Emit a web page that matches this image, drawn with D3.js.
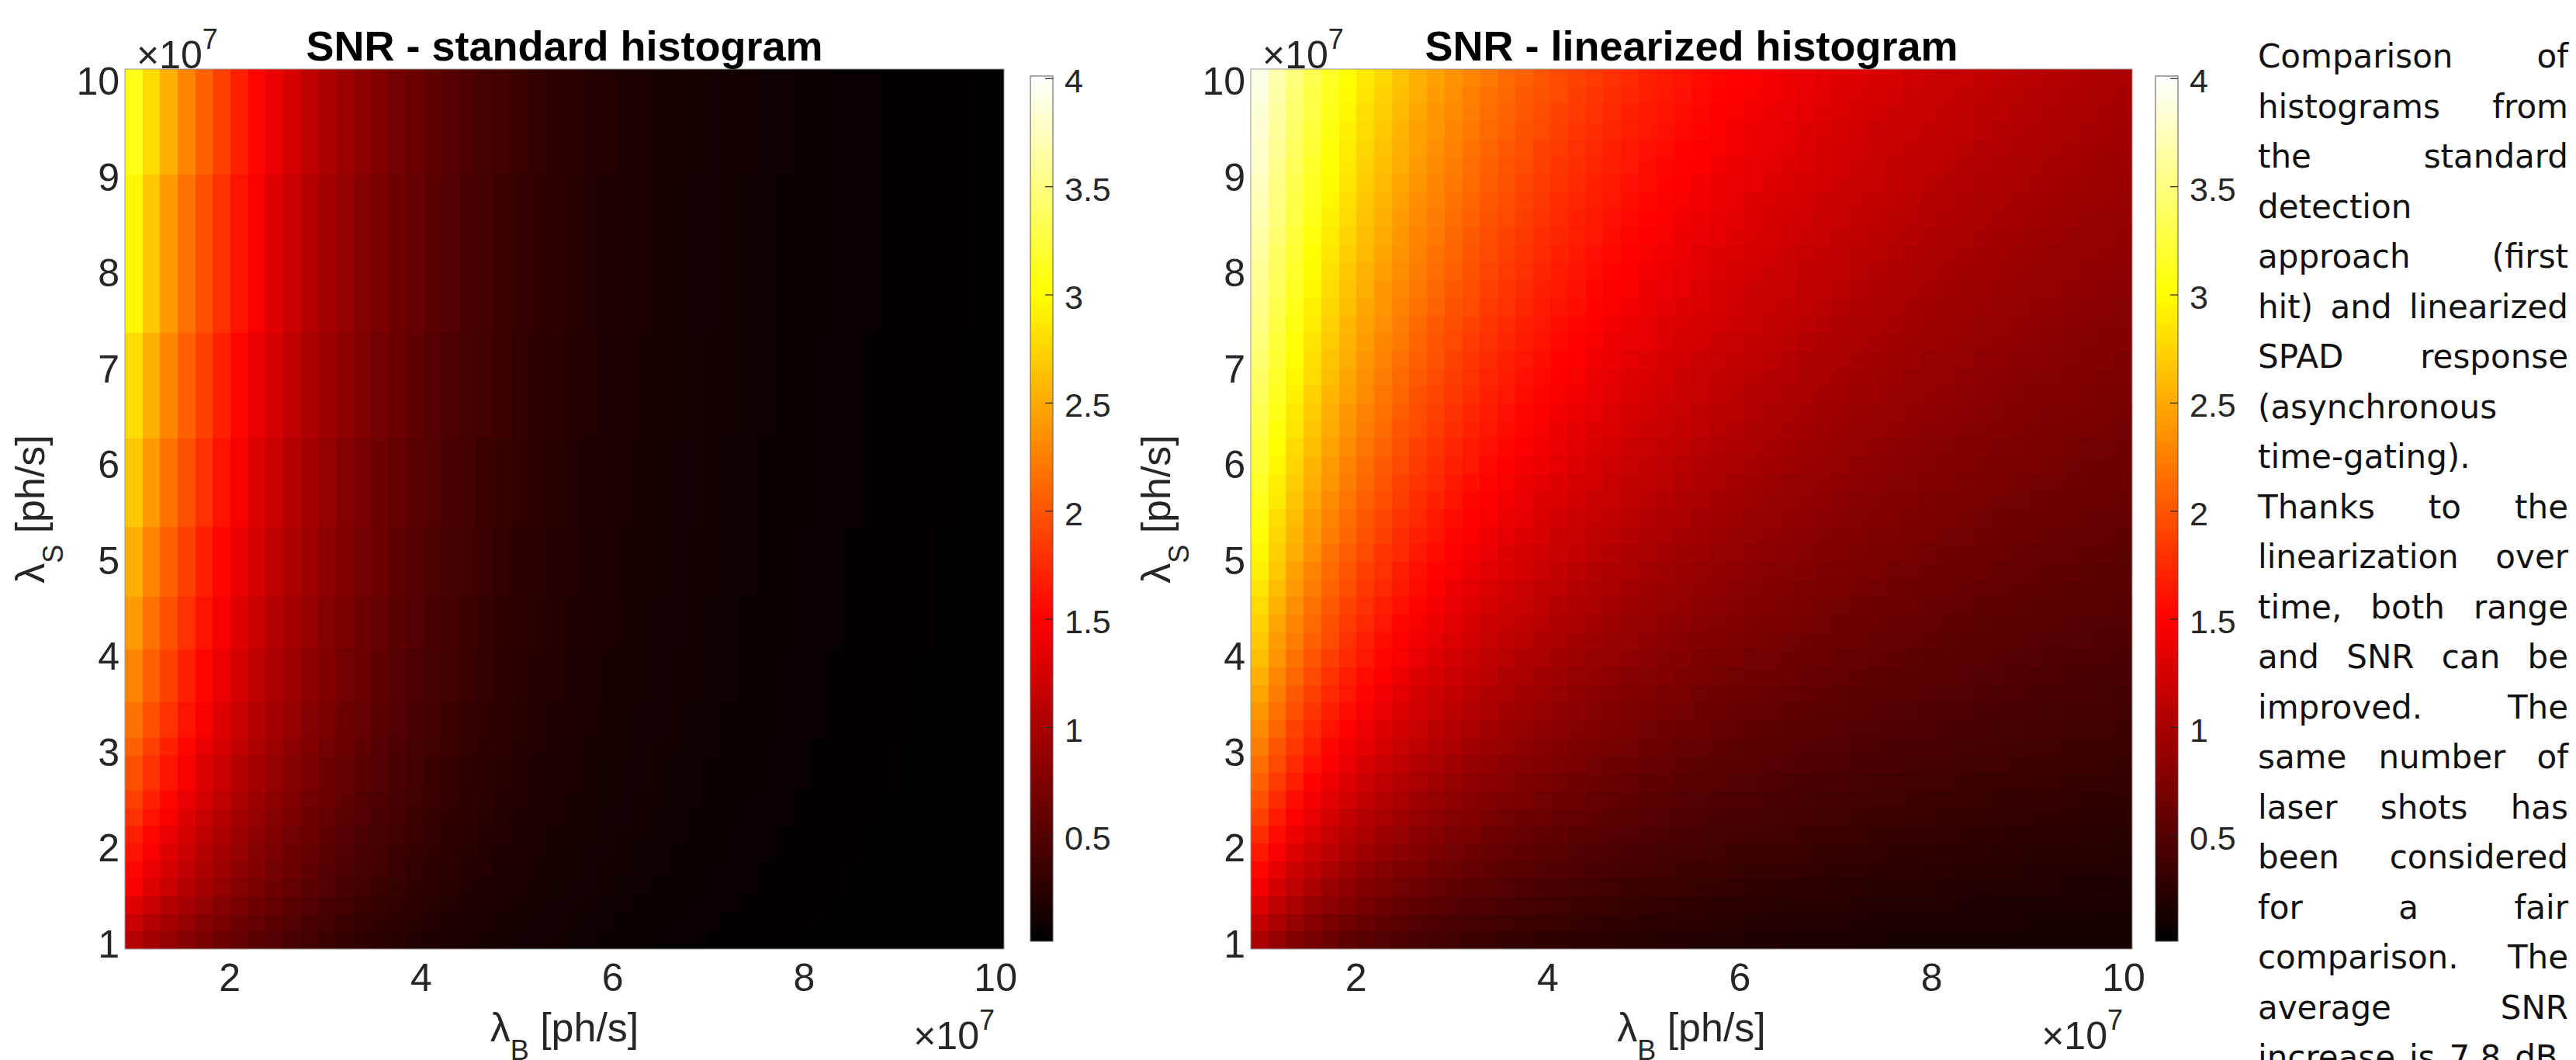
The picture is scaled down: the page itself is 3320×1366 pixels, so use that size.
<!DOCTYPE html>
<html><head><meta charset="utf-8">
<script src="https://cdn.jsdelivr.net/npm/d3@7"></script>
<style>html,body{margin:0;padding:0;background:#fff;}svg{display:block;}
.desc{font-family:"DejaVu Sans";font-size:42px;fill:#111;}
</style>
</head><body>
<svg id="chart" width="3320" height="1366"></svg>
<script>
// ---------------- DATA ----------------
// background / signal photon rates, in units of 1e7 ph/s
const lambdaB = [1.000,1.184,1.367,1.551,1.735,1.918,2.102,2.286,2.469,2.653,2.837,3.020,3.204,3.388,3.571,3.755,3.939,4.122,4.306,4.490,4.673,4.857,5.041,5.224,5.408,5.592,5.776,5.959,6.143,6.327,6.510,6.694,6.878,7.061,7.245,7.429,7.612,7.796,7.980,8.163,8.347,8.531,8.714,8.898,9.082,9.265,9.449,9.633,9.816,10.000];
const lambdaS = [1.000,1.184,1.367,1.551,1.735,1.918,2.102,2.286,2.469,2.653,2.837,3.020,3.204,3.388,3.571,3.755,3.939,4.122,4.306,4.490,4.673,4.857,5.041,5.224,5.408,5.592,5.776,5.959,6.143,6.327,6.510,6.694,6.878,7.061,7.245,7.429,7.612,7.796,7.980,8.163,8.347,8.531,8.714,8.898,9.082,9.265,9.449,9.633,9.816,10.000];
const axisExponent = 7;
const xTickValues = [2,4,6,8,10];
const yTickValues = [1,2,3,4,5,6,7,8,9,10];
const cbTickValues = [0.5,1,1.5,2,2.5,3,3.5,4];
const colorLimits = [0.01, 4.01];
const titles = ["SNR - standard histogram", "SNR - linearized histogram"];
const xLabelMain = "\u03BB", xLabelSub = "B", yLabelSub = "S", labelUnit = " [ph/s]";

// standard histogram SNR: row profiles along lambdaB (rows read bottom -> top)
const stdRowA = [1.07,.97,.88,.79,.72,.65,.59,.53,.48,.43,.39,.35,.32,.29,.26,.24,.21,.19,.17,.16,.14,.129,.117,.106,.095,.086,.078,.071,.064,.058,.052,.047,.043,.039,.035,.032,.029,.026,.024,.021,.019,.017,.016,.014,.013,.011,.010,.009,.008,.008];
const stdRowB = [1.19,1.07,.97,.88,.79,.72,.65,.59,.53,.48,.43,.39,.35,.32,.29,.26,.24,.21,.19,.17,.16,.14,.129,.117,.106,.095,.086,.078,.071,.064,.058,.052,.047,.043,.039,.035,.032,.029,.026,.024,.021,.019,.017,.016,.014,.013,.011,.010,.009,.008];
const stdRowC = [1.31,1.19,1.07,.97,.88,.79,.72,.65,.59,.53,.48,.43,.39,.35,.32,.29,.26,.24,.21,.19,.17,.16,.14,.129,.117,.106,.095,.086,.078,.071,.064,.058,.052,.047,.043,.039,.035,.032,.029,.026,.024,.021,.019,.017,.016,.014,.013,.011,.010,.009];
const stdRowD = [1.45,1.31,1.19,1.07,.97,.88,.79,.72,.65,.59,.53,.48,.43,.39,.35,.32,.29,.26,.24,.21,.19,.17,.16,.14,.129,.117,.106,.095,.086,.078,.071,.064,.058,.052,.047,.043,.039,.035,.032,.029,.026,.024,.021,.019,.017,.016,.014,.013,.011,.010];
const stdRowE = [1.53,1.38,1.25,1.13,1.02,.92,.83,.75,.68,.62,.56,.50,.46,.41,.37,.34,.30,.27,.25,.22,.20,.18,.17,.15,.136,.123,.111,.100,.091,.082,.074,.067,.061,.055,.050,.045,.041,.037,.033,.030,.027,.025,.022,.020,.018,.016,.015,.013,.012,.011];
const stdRowF = [1.61,1.45,1.31,1.19,1.07,.97,.88,.79,.72,.65,.59,.53,.48,.43,.39,.35,.32,.29,.26,.24,.21,.19,.17,.16,.14,.129,.117,.106,.095,.086,.078,.071,.064,.058,.052,.047,.043,.039,.035,.032,.029,.026,.024,.021,.019,.017,.016,.014,.013,.011];
const stdRowG = [1.69,1.53,1.38,1.25,1.13,1.02,.92,.83,.75,.68,.62,.56,.50,.46,.41,.37,.34,.30,.27,.25,.22,.20,.18,.17,.15,.136,.123,.111,.100,.091,.082,.074,.067,.061,.055,.050,.045,.041,.037,.033,.030,.027,.025,.022,.020,.018,.016,.015,.013,.012];
const stdRowH = [1.78,1.61,1.45,1.31,1.19,1.07,.97,.88,.79,.72,.65,.59,.53,.48,.43,.39,.35,.32,.29,.26,.24,.21,.19,.17,.16,.14,.129,.117,.106,.095,.086,.078,.071,.064,.058,.052,.047,.043,.039,.035,.032,.029,.026,.024,.021,.019,.017,.016,.014,.013];
const stdRowI = [1.87,1.69,1.53,1.38,1.25,1.13,1.02,.92,.83,.75,.68,.62,.56,.50,.46,.41,.37,.34,.30,.27,.25,.22,.20,.18,.17,.15,.136,.123,.111,.100,.091,.082,.074,.067,.061,.055,.050,.045,.041,.037,.033,.030,.027,.025,.022,.020,.018,.016,.015,.013];
const stdRowJ = [1.97,1.78,1.61,1.45,1.31,1.19,1.07,.97,.88,.79,.72,.65,.59,.53,.48,.43,.39,.35,.32,.29,.26,.24,.21,.19,.17,.16,.14,.129,.117,.106,.095,.086,.078,.071,.064,.058,.052,.047,.043,.039,.035,.032,.029,.026,.024,.021,.019,.017,.016,.014];
const stdRowK = [2.07,1.87,1.69,1.53,1.38,1.25,1.13,1.02,.92,.83,.75,.68,.62,.56,.50,.46,.41,.37,.34,.30,.27,.25,.22,.20,.18,.17,.15,.136,.123,.111,.100,.091,.082,.074,.067,.061,.055,.050,.045,.041,.037,.033,.030,.027,.025,.022,.020,.018,.016,.015];
const stdRowL = [2.18,1.97,1.78,1.61,1.45,1.31,1.19,1.07,.97,.88,.79,.72,.65,.59,.53,.48,.43,.39,.35,.32,.29,.26,.24,.21,.19,.17,.16,.14,.129,.117,.106,.095,.086,.078,.071,.064,.058,.052,.047,.043,.039,.035,.032,.029,.026,.024,.021,.019,.017,.016];
const stdRowM = [2.29,2.07,1.87,1.69,1.53,1.38,1.25,1.13,1.02,.92,.83,.75,.68,.62,.56,.50,.46,.41,.37,.34,.30,.27,.25,.22,.20,.18,.17,.15,.136,.123,.111,.100,.091,.082,.074,.067,.061,.055,.050,.045,.041,.037,.033,.030,.027,.025,.022,.020,.018,.016];
const stdRowN = [2.41,2.18,1.97,1.78,1.61,1.45,1.31,1.19,1.07,.97,.88,.79,.72,.65,.59,.53,.48,.43,.39,.35,.32,.29,.26,.24,.21,.19,.17,.16,.14,.129,.117,.106,.095,.086,.078,.071,.064,.058,.052,.047,.043,.039,.035,.032,.029,.026,.024,.021,.019,.017];
const stdRowO = [2.53,2.29,2.07,1.87,1.69,1.53,1.38,1.25,1.13,1.02,.92,.83,.75,.68,.62,.56,.50,.46,.41,.37,.34,.30,.27,.25,.22,.20,.18,.17,.15,.136,.123,.111,.100,.091,.082,.074,.067,.061,.055,.050,.045,.041,.037,.033,.030,.027,.025,.022,.020,.018];
const stdRowP = [2.67,2.41,2.18,1.97,1.78,1.61,1.45,1.31,1.19,1.07,.97,.88,.79,.72,.65,.59,.53,.48,.43,.39,.35,.32,.29,.26,.24,.21,.19,.17,.16,.14,.129,.117,.106,.095,.086,.078,.071,.064,.058,.052,.047,.043,.039,.035,.032,.029,.026,.024,.021,.019];
const stdRowQ = [2.80,2.53,2.29,2.07,1.87,1.69,1.53,1.38,1.25,1.13,1.02,.92,.83,.75,.68,.62,.56,.50,.46,.41,.37,.34,.30,.27,.25,.22,.20,.18,.17,.15,.136,.123,.111,.100,.091,.082,.074,.067,.061,.055,.050,.045,.041,.037,.033,.030,.027,.025,.022,.020];
const stdRowR = [2.95,2.67,2.41,2.18,1.97,1.78,1.61,1.45,1.31,1.19,1.07,.97,.88,.79,.72,.65,.59,.53,.48,.43,.39,.35,.32,.29,.26,.24,.21,.19,.17,.16,.14,.129,.117,.106,.095,.086,.078,.071,.064,.058,.052,.047,.043,.039,.035,.032,.029,.026,.024,.021];
const stdRowS = [3.10,2.80,2.53,2.29,2.07,1.87,1.69,1.53,1.38,1.25,1.13,1.02,.92,.83,.75,.68,.62,.56,.50,.46,.41,.37,.34,.30,.27,.25,.22,.20,.18,.17,.15,.136,.123,.111,.100,.091,.082,.074,.067,.061,.055,.050,.045,.041,.037,.033,.030,.027,.025,.022];
const snrStandard = [stdRowA,stdRowB,stdRowC,stdRowD,stdRowE,stdRowF,stdRowG,stdRowH,stdRowI,stdRowJ,
  stdRowJ,stdRowK,stdRowL,stdRowL,stdRowM,stdRowM,stdRowM,stdRowN,stdRowN,stdRowN,
  stdRowO,stdRowO,stdRowO,stdRowO,stdRowP,stdRowP,stdRowP,stdRowP,stdRowP,stdRowQ,
  stdRowQ,stdRowQ,stdRowQ,stdRowQ,stdRowQ,stdRowR,stdRowR,stdRowR,stdRowR,stdRowR,
  stdRowR,stdRowR,stdRowR,stdRowR,stdRowS,stdRowS,stdRowS,stdRowS,stdRowS,stdRowS];

// linearized histogram SNR (rows read bottom -> top)
const snrLinearized = [
[1.00,.87,.77,.69,.62,.57,.52,.49,.45,.42,.40,.38,.35,.34,.32,.31,.29,.28,.27,.26,.25,.24,.23,.22,.22,.21,.20,.20,.19,.19,.18,.18,.17,.17,.16,.16,.15,.15,.15,.14,.14,.14,.14,.13,.13,.13,.13,.12,.12,.12],
[1.15,1.00,.89,.80,.72,.66,.61,.57,.53,.49,.46,.44,.41,.39,.38,.36,.34,.33,.31,.30,.29,.28,.27,.26,.25,.25,.24,.23,.22,.22,.21,.21,.20,.20,.19,.19,.18,.18,.17,.17,.17,.16,.16,.16,.15,.15,.15,.15,.14,.14],
[1.29,1.13,1.00,.90,.82,.75,.69,.64,.60,.56,.53,.50,.47,.45,.43,.41,.39,.38,.36,.35,.33,.32,.31,.30,.29,.28,.27,.26,.26,.25,.24,.24,.23,.23,.22,.21,.21,.20,.20,.20,.19,.19,.18,.18,.18,.17,.17,.17,.16,.16],
[1.42,1.24,1.11,1.00,.91,.84,.77,.72,.67,.63,.59,.56,.53,.51,.48,.46,.44,.42,.41,.39,.38,.36,.35,.34,.33,.32,.31,.30,.29,.28,.27,.27,.26,.25,.25,.24,.24,.23,.23,.22,.22,.21,.21,.20,.20,.20,.19,.19,.19,.18],
[1.54,1.36,1.21,1.10,1.00,.92,.85,.79,.74,.70,.66,.62,.59,.56,.53,.51,.49,.47,.45,.43,.42,.40,.39,.38,.36,.35,.34,.33,.32,.31,.31,.30,.29,.28,.28,.27,.26,.26,.25,.25,.24,.24,.23,.23,.22,.22,.21,.21,.21,.20],
[1.65,1.46,1.31,1.19,1.09,1.00,.93,.86,.81,.76,.72,.68,.64,.61,.58,.56,.53,.51,.49,.47,.46,.44,.43,.41,.40,.39,.38,.36,.35,.35,.34,.33,.32,.31,.30,.30,.29,.28,.28,.27,.27,.26,.25,.25,.24,.24,.24,.23,.23,.22],
[1.76,1.56,1.41,1.28,1.17,1.08,1.00,.93,.87,.82,.78,.73,.70,.66,.63,.61,.58,.56,.54,.52,.50,.48,.46,.45,.43,.42,.41,.40,.39,.38,.37,.36,.35,.34,.33,.32,.32,.31,.30,.30,.29,.28,.28,.27,.27,.26,.26,.25,.25,.24],
[1.87,1.66,1.50,1.36,1.25,1.15,1.07,1.00,.94,.88,.83,.79,.75,.72,.68,.65,.63,.60,.58,.56,.54,.52,.50,.48,.47,.46,.44,.43,.42,.41,.40,.39,.38,.37,.36,.35,.34,.33,.33,.32,.31,.31,.30,.30,.29,.28,.28,.27,.27,.26],
[1.97,1.75,1.58,1.44,1.33,1.23,1.14,1.07,1.00,.94,.89,.84,.80,.76,.73,.70,.67,.64,.62,.60,.58,.56,.54,.52,.50,.49,.47,.46,.45,.44,.43,.41,.40,.39,.38,.38,.37,.36,.35,.34,.34,.33,.32,.32,.31,.31,.30,.29,.29,.28],
[2.06,1.84,1.67,1.52,1.40,1.30,1.21,1.13,1.06,1.00,.95,.90,.85,.81,.78,.74,.71,.69,.66,.64,.61,.59,.57,.56,.54,.52,.51,.49,.48,.47,.45,.44,.43,.42,.41,.40,.39,.38,.38,.37,.36,.35,.35,.34,.33,.33,.32,.32,.31,.30],
[2.15,1.93,1.75,1.60,1.47,1.37,1.27,1.19,1.12,1.06,1.00,.95,.90,.86,.82,.79,.76,.73,.70,.68,.65,.63,.61,.59,.57,.55,.54,.52,.51,.50,.48,.47,.46,.45,.44,.43,.42,.41,.40,.39,.38,.38,.37,.36,.35,.35,.34,.34,.33,.32],
[2.24,2.01,1.83,1.67,1.54,1.43,1.34,1.25,1.18,1.11,1.05,1.00,.95,.91,.87,.83,.80,.77,.74,.71,.69,.67,.64,.62,.60,.59,.57,.55,.54,.53,.51,.50,.49,.48,.46,.45,.44,.43,.42,.42,.41,.40,.39,.38,.38,.37,.36,.36,.35,.34],
[2.32,2.09,1.90,1.74,1.61,1.50,1.40,1.31,1.23,1.17,1.10,1.05,1.00,.95,.91,.88,.84,.81,.78,.75,.73,.70,.68,.66,.64,.62,.60,.58,.57,.55,.54,.53,.51,.50,.49,.48,.47,.46,.45,.44,.43,.42,.41,.41,.40,.39,.38,.38,.37,.36],
[2.39,2.16,1.97,1.81,1.68,1.56,1.46,1.37,1.29,1.22,1.16,1.10,1.05,1.00,.96,.92,.88,.85,.82,.79,.76,.74,.71,.69,.67,.65,.63,.61,.60,.58,.57,.55,.54,.53,.52,.50,.49,.48,.47,.46,.45,.44,.44,.43,.42,.41,.40,.40,.39,.38],
[2.47,2.23,2.04,1.88,1.74,1.62,1.51,1.42,1.34,1.27,1.20,1.15,1.09,1.04,1.00,.96,.92,.89,.85,.82,.80,.77,.75,.72,.70,.68,.66,.64,.63,.61,.60,.58,.57,.55,.54,.53,.52,.51,.50,.48,.48,.47,.46,.45,.44,.43,.42,.42,.41,.40],
[2.54,2.30,2.11,1.94,1.80,1.68,1.57,1.48,1.39,1.32,1.25,1.19,1.14,1.09,1.04,1.00,.96,.93,.89,.86,.83,.80,.78,.76,.73,.71,.69,.67,.66,.64,.62,.61,.59,.58,.57,.55,.54,.53,.52,.51,.50,.49,.48,.47,.46,.45,.44,.44,.43,.42],
[2.61,2.37,2.17,2.00,1.86,1.74,1.63,1.53,1.45,1.37,1.30,1.24,1.18,1.13,1.08,1.04,1.00,.96,.93,.90,.87,.84,.81,.79,.76,.74,.72,.70,.68,.67,.65,.63,.62,.60,.59,.58,.56,.55,.54,.53,.52,.51,.50,.49,.48,.47,.46,.46,.45,.44],
[2.67,2.43,2.23,2.06,1.92,1.79,1.68,1.58,1.50,1.42,1.35,1.28,1.23,1.17,1.12,1.08,1.04,1.00,.96,.93,.90,.87,.84,.82,.80,.77,.75,.73,.71,.69,.68,.66,.64,.63,.62,.60,.59,.58,.56,.55,.54,.53,.52,.51,.50,.49,.48,.48,.47,.46],
[2.73,2.49,2.29,2.12,1.97,1.85,1.73,1.63,1.54,1.46,1.39,1.33,1.27,1.21,1.16,1.12,1.08,1.04,1.00,.97,.93,.90,.88,.85,.83,.80,.78,.76,.74,.72,.70,.69,.67,.65,.64,.63,.61,.60,.59,.57,.56,.55,.54,.53,.52,.51,.50,.49,.49,.48],
[2.79,2.55,2.35,2.18,2.03,1.90,1.78,1.68,1.59,1.51,1.44,1.37,1.31,1.25,1.20,1.16,1.11,1.07,1.03,1.00,.97,.94,.91,.88,.86,.83,.81,.79,.77,.75,.73,.71,.69,.68,.66,.65,.64,.62,.61,.60,.58,.57,.56,.55,.54,.53,.52,.51,.51,.50],
[2.85,2.61,2.41,2.23,2.08,1.95,1.83,1.73,1.64,1.56,1.48,1.41,1.35,1.29,1.24,1.19,1.15,1.11,1.07,1.03,1.00,.97,.94,.91,.89,.86,.84,.81,.79,.77,.75,.74,.72,.70,.69,.67,.66,.64,.63,.62,.61,.59,.58,.57,.56,.55,.54,.53,.52,.52],
[2.91,2.67,2.46,2.28,2.13,2.00,1.88,1.78,1.68,1.60,1.52,1.45,1.39,1.33,1.28,1.23,1.19,1.14,1.10,1.07,1.03,1.00,.97,.94,.91,.89,.86,.84,.82,.80,.78,.76,.74,.73,.71,.70,.68,.67,.65,.64,.63,.62,.60,.59,.58,.57,.56,.55,.54,.53],
[2.96,2.72,2.51,2.34,2.18,2.05,1.93,1.82,1.73,1.64,1.57,1.50,1.43,1.37,1.32,1.27,1.22,1.18,1.14,1.10,1.06,1.03,1.00,.97,.94,.92,.89,.87,.85,.83,.81,.79,.77,.75,.73,.72,.70,.69,.67,.66,.65,.64,.62,.61,.60,.59,.58,.57,.56,.55],
[3.01,2.77,2.56,2.39,2.23,2.10,1.98,1.87,1.77,1.69,1.61,1.53,1.47,1.41,1.35,1.30,1.26,1.21,1.17,1.13,1.10,1.06,1.03,1.00,.97,.95,.92,.90,.87,.85,.83,.81,.79,.77,.76,.74,.73,.71,.70,.68,.67,.66,.64,.63,.62,.61,.60,.59,.58,.57],
[3.06,2.82,2.61,2.43,2.28,2.14,2.02,1.91,1.81,1.73,1.65,1.57,1.51,1.45,1.39,1.34,1.29,1.24,1.20,1.16,1.13,1.09,1.06,1.03,1.00,.97,.95,.92,.90,.88,.86,.84,.82,.80,.78,.76,.75,.73,.72,.70,.69,.68,.66,.65,.64,.63,.62,.61,.60,.59],
[3.11,2.87,2.66,2.48,2.32,2.19,2.06,1.95,1.86,1.77,1.69,1.61,1.54,1.48,1.43,1.37,1.32,1.28,1.23,1.19,1.16,1.12,1.09,1.06,1.03,1.00,.97,.95,.92,.90,.88,.86,.84,.82,.80,.79,.77,.75,.74,.72,.71,.70,.68,.67,.66,.65,.64,.63,.62,.61],
[3.16,2.91,2.71,2.53,2.37,2.23,2.11,2.00,1.90,1.81,1.73,1.65,1.58,1.52,1.46,1.41,1.36,1.31,1.27,1.23,1.19,1.15,1.12,1.09,1.06,1.03,1.00,.97,.95,.93,.90,.88,.86,.84,.83,.81,.79,.78,.76,.75,.73,.72,.70,.69,.68,.67,.66,.64,.63,.62],
[3.20,2.96,2.75,2.57,2.41,2.27,2.15,2.04,1.94,1.85,1.76,1.69,1.62,1.55,1.49,1.44,1.39,1.34,1.30,1.26,1.22,1.18,1.15,1.11,1.08,1.05,1.03,1.00,.98,.95,.93,.91,.89,.87,.85,.83,.81,.80,.78,.77,.75,.74,.72,.71,.70,.69,.67,.66,.65,.64],
[3.24,3.00,2.79,2.61,2.46,2.32,2.19,2.08,1.98,1.88,1.80,1.72,1.65,1.59,1.53,1.47,1.42,1.37,1.33,1.29,1.25,1.21,1.17,1.14,1.11,1.08,1.05,1.03,1.00,.98,.95,.93,.91,.89,.87,.85,.83,.82,.80,.79,.77,.76,.74,.73,.72,.70,.69,.68,.67,.66],
[3.28,3.04,2.84,2.66,2.50,2.36,2.23,2.12,2.01,1.92,1.84,1.76,1.69,1.62,1.56,1.51,1.45,1.40,1.36,1.32,1.28,1.24,1.20,1.17,1.14,1.11,1.08,1.05,1.02,1.00,.98,.95,.93,.91,.89,.87,.86,.84,.82,.81,.79,.78,.76,.75,.74,.72,.71,.70,.69,.68],
[3.32,3.09,2.88,2.70,2.54,2.40,2.27,2.16,2.05,1.96,1.87,1.79,1.72,1.66,1.59,1.54,1.48,1.43,1.39,1.34,1.30,1.27,1.23,1.19,1.16,1.13,1.10,1.08,1.05,1.02,1.00,.98,.96,.93,.91,.90,.88,.86,.84,.83,.81,.80,.78,.77,.75,.74,.73,.72,.70,.69],
[3.36,3.13,2.92,2.74,2.58,2.44,2.31,2.19,2.09,1.99,1.91,1.83,1.76,1.69,1.63,1.57,1.52,1.46,1.42,1.37,1.33,1.29,1.26,1.22,1.19,1.16,1.13,1.10,1.07,1.05,1.02,1.00,.98,.96,.94,.92,.90,.88,.86,.85,.83,.82,.80,.79,.77,.76,.75,.73,.72,.71],
[3.40,3.16,2.96,2.78,2.62,2.47,2.35,2.23,2.13,2.03,1.94,1.86,1.79,1.72,1.66,1.60,1.55,1.49,1.45,1.40,1.36,1.32,1.28,1.25,1.21,1.18,1.15,1.12,1.10,1.07,1.05,1.02,1.00,.98,.96,.94,.92,.90,.88,.87,.85,.83,.82,.80,.79,.78,.76,.75,.74,.73],
[3.44,3.20,3.00,2.81,2.65,2.51,2.38,2.27,2.16,2.06,1.98,1.90,1.82,1.75,1.69,1.63,1.58,1.52,1.48,1.43,1.39,1.35,1.31,1.27,1.24,1.21,1.18,1.15,1.12,1.09,1.07,1.04,1.02,1.00,.98,.96,.94,.92,.90,.89,.87,.85,.84,.82,.81,.80,.78,.77,.76,.74],
[3.47,3.24,3.03,2.85,2.69,2.55,2.42,2.30,2.20,2.10,2.01,1.93,1.85,1.79,1.72,1.66,1.61,1.55,1.50,1.46,1.41,1.37,1.34,1.30,1.26,1.23,1.20,1.17,1.14,1.12,1.09,1.07,1.04,1.02,1.00,.98,.96,.94,.92,.91,.89,.87,.86,.84,.83,.81,.80,.79,.77,.76],
[3.51,3.27,3.07,2.89,2.73,2.58,2.45,2.34,2.23,2.13,2.04,1.96,1.89,1.82,1.75,1.69,1.63,1.58,1.53,1.49,1.44,1.40,1.36,1.32,1.29,1.26,1.23,1.20,1.17,1.14,1.11,1.09,1.07,1.04,1.02,1.00,.98,.96,.94,.92,.91,.89,.87,.86,.84,.83,.82,.80,.79,.78],
[3.54,3.31,3.10,2.92,2.76,2.62,2.49,2.37,2.26,2.17,2.08,1.99,1.92,1.85,1.78,1.72,1.66,1.61,1.56,1.51,1.47,1.43,1.39,1.35,1.31,1.28,1.25,1.22,1.19,1.16,1.14,1.11,1.09,1.06,1.04,1.02,1.00,.98,.96,.94,.93,.91,.89,.88,.86,.85,.83,.82,.81,.79],
[3.57,3.34,3.14,2.96,2.80,2.65,2.52,2.40,2.30,2.20,2.11,2.02,1.95,1.88,1.81,1.75,1.69,1.64,1.59,1.54,1.49,1.45,1.41,1.37,1.34,1.30,1.27,1.24,1.21,1.18,1.16,1.13,1.11,1.08,1.06,1.04,1.02,1.00,.98,.96,.94,.93,.91,.90,.88,.87,.85,.84,.82,.81],
[3.60,3.37,3.17,2.99,2.83,2.68,2.55,2.44,2.33,2.23,2.14,2.06,1.98,1.91,1.84,1.78,1.72,1.66,1.61,1.57,1.52,1.48,1.44,1.40,1.36,1.33,1.30,1.26,1.23,1.21,1.18,1.15,1.13,1.11,1.08,1.06,1.04,1.02,1.00,.98,.96,.95,.93,.91,.90,.88,.87,.85,.84,.83],
[3.63,3.40,3.20,3.02,2.86,2.72,2.59,2.47,2.36,2.26,2.17,2.09,2.01,1.94,1.87,1.81,1.75,1.69,1.64,1.59,1.55,1.50,1.46,1.42,1.39,1.35,1.32,1.29,1.26,1.23,1.20,1.17,1.15,1.13,1.10,1.08,1.06,1.04,1.02,1.00,.98,.96,.95,.93,.91,.90,.88,.87,.86,.84],
[3.66,3.44,3.23,3.05,2.89,2.75,2.62,2.50,2.39,2.29,2.20,2.11,2.04,1.96,1.90,1.83,1.77,1.72,1.67,1.62,1.57,1.53,1.49,1.45,1.41,1.37,1.34,1.31,1.28,1.25,1.22,1.20,1.17,1.15,1.12,1.10,1.08,1.06,1.04,1.02,1.00,.98,.96,.95,.93,.92,.90,.89,.87,.86],
[3.69,3.47,3.26,3.09,2.92,2.78,2.65,2.53,2.42,2.32,2.23,2.14,2.07,1.99,1.92,1.86,1.80,1.74,1.69,1.64,1.60,1.55,1.51,1.47,1.43,1.40,1.36,1.33,1.30,1.27,1.24,1.22,1.19,1.17,1.14,1.12,1.10,1.08,1.06,1.04,1.02,1.00,.98,.97,.95,.93,.92,.90,.89,.88],
[3.72,3.50,3.29,3.12,2.96,2.81,2.68,2.56,2.45,2.35,2.26,2.17,2.09,2.02,1.95,1.89,1.83,1.77,1.72,1.67,1.62,1.58,1.53,1.49,1.46,1.42,1.39,1.35,1.32,1.29,1.26,1.24,1.21,1.19,1.16,1.14,1.12,1.10,1.07,1.06,1.04,1.02,1.00,.98,.97,.95,.93,.92,.91,.89],
[3.75,3.52,3.32,3.15,2.99,2.84,2.71,2.59,2.48,2.38,2.29,2.20,2.12,2.05,1.98,1.91,1.85,1.80,1.74,1.69,1.65,1.60,1.56,1.52,1.48,1.44,1.41,1.38,1.34,1.31,1.28,1.26,1.23,1.21,1.18,1.16,1.14,1.11,1.09,1.07,1.05,1.04,1.02,1.00,.98,.97,.95,.94,.92,.91],
[3.78,3.55,3.35,3.17,3.01,2.87,2.74,2.62,2.51,2.41,2.32,2.23,2.15,2.07,2.00,1.94,1.88,1.82,1.77,1.72,1.67,1.62,1.58,1.54,1.50,1.47,1.43,1.40,1.36,1.33,1.31,1.28,1.25,1.23,1.20,1.18,1.15,1.13,1.11,1.09,1.07,1.05,1.03,1.02,1.00,.98,.97,.95,.94,.92],
[3.80,3.58,3.38,3.20,3.04,2.90,2.77,2.65,2.54,2.44,2.34,2.26,2.18,2.10,2.03,1.97,1.90,1.85,1.79,1.74,1.69,1.65,1.60,1.56,1.52,1.49,1.45,1.42,1.39,1.36,1.33,1.30,1.27,1.24,1.22,1.20,1.17,1.15,1.13,1.11,1.09,1.07,1.05,1.03,1.02,1.00,.98,.97,.95,.94],
[3.83,3.61,3.41,3.23,3.07,2.93,2.80,2.68,2.57,2.46,2.37,2.28,2.20,2.13,2.06,1.99,1.93,1.87,1.82,1.77,1.72,1.67,1.63,1.59,1.55,1.51,1.47,1.44,1.41,1.38,1.35,1.32,1.29,1.26,1.24,1.21,1.19,1.17,1.15,1.13,1.11,1.09,1.07,1.05,1.03,1.02,1.00,.98,.97,.95],
[3.85,3.63,3.43,3.26,3.10,2.95,2.82,2.70,2.59,2.49,2.40,2.31,2.23,2.15,2.08,2.02,1.95,1.90,1.84,1.79,1.74,1.69,1.65,1.61,1.57,1.53,1.49,1.46,1.43,1.40,1.37,1.34,1.31,1.28,1.26,1.23,1.21,1.19,1.17,1.14,1.12,1.10,1.09,1.07,1.05,1.03,1.02,1.00,.98,.97],
[3.88,3.66,3.46,3.28,3.13,2.98,2.85,2.73,2.62,2.52,2.42,2.34,2.25,2.18,2.11,2.04,1.98,1.92,1.86,1.81,1.76,1.72,1.67,1.63,1.59,1.55,1.52,1.48,1.45,1.42,1.39,1.36,1.33,1.30,1.28,1.25,1.23,1.20,1.18,1.16,1.14,1.12,1.10,1.08,1.07,1.05,1.03,1.02,1.00,.98],
[3.90,3.68,3.49,3.31,3.15,3.01,2.88,2.76,2.65,2.54,2.45,2.36,2.28,2.20,2.13,2.07,2.00,1.94,1.89,1.84,1.79,1.74,1.69,1.65,1.61,1.57,1.54,1.50,1.47,1.44,1.41,1.38,1.35,1.32,1.30,1.27,1.25,1.22,1.20,1.18,1.16,1.14,1.12,1.10,1.08,1.07,1.05,1.03,1.02,1.00]
];

const descLines = ["Comparison of","histograms from","the standard","detection","approach (first","hit) and linearized","SPAD response","(asynchronous","time-gating).","Thanks to the","linearization over","time, both range","and SNR can be","improved. The","same number of","laser shots has","been considered","for a fair","comparison. The","average SNR","increase is 7.8 dB."];

// ---------------- LAYOUT ----------------
const W = 3320, H = 1366;
const plotTop = 89, plotBottom = 1223;
const cbTop = 98, cbBottom = 1213, cbW = 29;
const panels = [
  {title: titles[0], data: snrStandard, x0: 161, x1: 1294, cbX: 1328},
  {title: titles[1], data: snrLinearized, x0: 1612, x1: 2748, cbX: 2778}
];
const FONT = "'Liberation Sans', Arial, Helvetica, sans-serif";
const TXT = "#262626";

const svg = d3.select("#chart");
svg.append("rect").attr("width", W).attr("height", H).attr("fill", "#fff");

const cScale = d3.scaleLinear().domain(colorLimits).range([0, 1]).clamp(true);
function hot(v) {
  const m = 256, n1 = 96, n2 = 192;
  const t = cScale(v);
  const i = Math.min(m, Math.floor(t * m) + 1);
  const r = i <= n1 ? i / n1 : 1;
  const g = i <= n1 ? 0 : (i <= n2 ? (i - n1) / (n2 - n1) : 1);
  const b = i <= n2 ? 0 : (i - n2) / (m - n2);
  return d3.rgb(r * 255, g * 255, b * 255).formatHex();
}

function edges(arr) {
  const n = arr.length, e = [];
  e.push(arr[0] - (arr[1] - arr[0]) / 2);
  for (let k = 1; k < n; k++) e.push((arr[k - 1] + arr[k]) / 2);
  e.push(arr[n - 1] + (arr[n - 1] - arr[n - 2]) / 2);
  return e;
}
const xEdges = edges(lambdaB), yEdges = edges(lambdaS);

panels.forEach(p => {
  const g = svg.append("g");
  const x = d3.scaleLinear().domain([xEdges[0], xEdges[xEdges.length - 1]]).range([p.x0, p.x1]);
  const y = d3.scaleLinear().domain([yEdges[0], yEdges[yEdges.length - 1]]).range([plotBottom, plotTop]);

  const cells = [];
  p.data.forEach((row, i) => row.forEach((v, j) => cells.push({i, j, v})));
  g.append("g").selectAll("rect").data(cells).join("rect")
    .attr("x", d => Math.round(x(xEdges[d.j])))
    .attr("width", d => Math.round(x(xEdges[d.j + 1])) - Math.round(x(xEdges[d.j])))
    .attr("y", d => Math.round(y(yEdges[d.i + 1])))
    .attr("height", d => Math.round(y(yEdges[d.i])) - Math.round(y(yEdges[d.i + 1])))
    .attr("fill", d => hot(d.v))
    .attr("shape-rendering", "crispEdges");

  g.append("rect").attr("x", p.x0).attr("y", plotTop)
    .attr("width", p.x1 - p.x0).attr("height", plotBottom - plotTop)
    .attr("fill", "none").attr("stroke", "#9a9a9a").attr("stroke-width", 1);

  // axes
  const ya = g.append("g").attr("transform", `translate(${p.x0},0)`)
    .call(d3.axisLeft(y).tickValues(yTickValues).tickSize(0).tickPadding(7).tickFormat(d3.format("d")));
  ya.select(".domain").remove();
  ya.selectAll("text").attr("font-size", 50).attr("font-family", FONT).attr("fill", TXT).attr("dy", "0.43em");

  const xa = g.append("g").attr("transform", `translate(0,${plotBottom})`)
    .call(d3.axisBottom(x).tickValues(xTickValues).tickSize(0).tickFormat(d3.format("d")));
  xa.select(".domain").remove();
  xa.selectAll("text").attr("font-size", 50).attr("font-family", FONT).attr("fill", TXT).attr("y", 54).attr("dy", 0);

  // title
  g.append("text").attr("x", (p.x0 + p.x1) / 2).attr("y", 78).attr("text-anchor", "middle")
    .attr("font-family", FONT).attr("font-weight", "bold").attr("font-size", 54).attr("fill", "#000")
    .text(p.title);

  // exponent labels
  const ey = g.append("text").attr("x", p.x0 + 15).attr("y", 88)
    .attr("font-family", FONT).attr("font-size", 50).attr("fill", TXT);
  ey.append("tspan").text("\u00D710");
  ey.append("tspan").attr("font-size", 36).attr("dy", -25).text(axisExponent);

  const ex = g.append("text").attr("x", p.x1 - 12).attr("y", 1352).attr("text-anchor", "end")
    .attr("font-family", FONT).attr("font-size", 50).attr("fill", TXT);
  ex.append("tspan").text("\u00D710");
  ex.append("tspan").attr("font-size", 36).attr("dy", -25).text(axisExponent);

  // axis labels
  const xl = g.append("text").attr("x", (p.x0 + p.x1) / 2).attr("y", 1342).attr("text-anchor", "middle")
    .attr("font-family", FONT).attr("font-size", 52).attr("fill", TXT);
  xl.append("tspan").text(xLabelMain);
  xl.append("tspan").attr("font-size", 36).attr("dy", 24).text(xLabelSub);
  xl.append("tspan").attr("dy", -24).text(labelUnit);

  const yl = g.append("text").attr("transform", `translate(${p.x0 - 104},${(plotTop + plotBottom) / 2}) rotate(-90)`)
    .attr("text-anchor", "middle").attr("font-family", FONT).attr("font-size", 52).attr("fill", TXT);
  yl.append("tspan").text(xLabelMain);
  yl.append("tspan").attr("font-size", 36).attr("dy", 24).text(yLabelSub);
  yl.append("tspan").attr("dy", -24).text(labelUnit);

  // colorbar
  const cb = d3.scaleLinear().domain(colorLimits).range([cbBottom, cbTop]);
  const nLev = 256, step = (colorLimits[1] - colorLimits[0]) / nLev;
  g.append("g").selectAll("rect").data(d3.range(nLev)).join("rect")
    .attr("x", p.cbX).attr("width", cbW)
    .attr("y", k => Math.round(cb(colorLimits[0] + (k + 1) * step)))
    .attr("height", k => Math.round(cb(colorLimits[0] + k * step)) - Math.round(cb(colorLimits[0] + (k + 1) * step)))
    .attr("fill", k => hot(colorLimits[0] + (k + 0.5) * step))
    .attr("shape-rendering", "crispEdges");
  g.append("rect").attr("x", p.cbX).attr("y", cbTop).attr("width", cbW).attr("height", cbBottom - cbTop)
    .attr("fill", "none").attr("stroke", "#555").attr("stroke-width", 1);
  const ca = g.append("g").attr("transform", `translate(${p.cbX + cbW},0)`)
    .call(d3.axisRight(cb).tickValues(cbTickValues).tickSize(-10).tickPadding(15).tickFormat(d => String(d)));
  ca.select(".domain").remove();
  ca.selectAll("line").attr("stroke", TXT).attr("stroke-width", 1.2);
  ca.selectAll("text").attr("x", 15).attr("font-size", 43).attr("font-family", FONT).attr("fill", TXT).attr("dy", "0.42em");
});

// description text, justified
const descLeft = 2910, descRight = 3310, descTop = 87, descLineH = 64.5;
const tb = svg.append("g").attr("class", "desc");
descLines.forEach((line, i) => {
  const t = tb.append("text").attr("class", "desc").attr("y", descTop + i * descLineH);
  const words = line.split(" ");
  if (words.length === 1) { t.append("tspan").attr("x", descLeft).text(line); return; }
  const spans = words.map(w => t.append("tspan").text(w));
  const widths = spans.map(s => s.node().getComputedTextLength());
  const gap = (descRight - descLeft - d3.sum(widths)) / (words.length - 1);
  let cx = descLeft;
  spans.forEach((s, k) => { s.attr("x", cx); cx += widths[k] + gap; });
});
</script>
</body></html>
